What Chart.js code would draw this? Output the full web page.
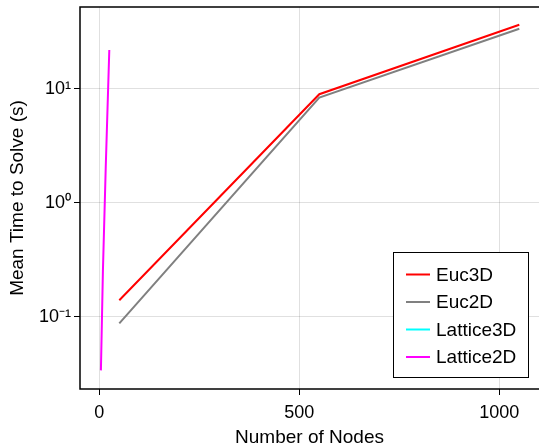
<!DOCTYPE html>
<html>
<head>
<meta charset="utf-8">
<script src="https://cdn.jsdelivr.net/npm/chart.js@4"></script>
<style>
  body { margin: 0; background: #fff; }
</style>
</head>
<body>
<canvas id="myChart" width="539" height="445"></canvas>
<script>
// values
const eucNodes = [50, 550, 1050];
const euc3dTimes = [0.14, 9.0, 36.6];
const euc2dTimes = [0.088, 8.4, 33.8];
const lattice3dNodes = [];
const lattice3dTimes = [];
const lattice2dNodes = [4, 9, 16, 25];
const lattice2dTimes = [0.034, 0.25, 2.0, 22];

const xTicks = [0, 500, 1000];
const yTicks = [0.1, 1, 10];
const yTickLabels = ['10⁻¹', '10⁰', '10¹'];

const FONT = '"Liberation Sans", Arial, sans-serif';
const GRID = 'rgba(0,0,0,0.12)';

function toPoints(xs, ys) {
  return xs.map((x, i) => ({ x: x, y: ys[i] }));
}

// box round the plot + legend inside it (bottom right)
const frameAndLegend = {
  id: 'frameAndLegend',
  afterDraw(chart) {
    const ctx = chart.ctx;
    const a = chart.chartArea;
    ctx.save();
    ctx.strokeStyle = '#000';
    ctx.lineWidth = 1.5;
    ctx.strokeRect(a.left, a.top, a.right - a.left + 10, a.bottom - a.top);

    const bx = 393.5, by = 252.5, bw = 135, bh = 125;
    ctx.fillStyle = '#fff';
    ctx.fillRect(bx, by, bw, bh);
    ctx.lineWidth = 1;
    ctx.strokeRect(bx, by, bw, bh);

    ctx.font = '19px ' + FONT;
    ctx.textBaseline = 'middle';
    chart.data.datasets.forEach((ds, i) => {
      const y = 274.5 + i * 27.5;
      ctx.strokeStyle = ds.borderColor;
      ctx.lineWidth = 2;
      ctx.beginPath();
      ctx.moveTo(406, y);
      ctx.lineTo(430, y);
      ctx.stroke();
      ctx.fillStyle = '#000';
      ctx.fillText(ds.label, 436, y + 1);
    });
    ctx.restore();
  }
};

function createChart() {
  const ctx = document.getElementById('myChart');
  new Chart(ctx, {
    type: 'line',
    data: {
      datasets: [
        { label: 'Euc3D', data: toPoints(eucNodes, euc3dTimes), borderColor: '#ff0000' },
        { label: 'Euc2D', data: toPoints(eucNodes, euc2dTimes), borderColor: '#808080' },
        { label: 'Lattice3D', data: toPoints(lattice3dNodes, lattice3dTimes), borderColor: '#00ffff' },
        { label: 'Lattice2D', data: toPoints(lattice2dNodes, lattice2dTimes), borderColor: '#ff00ff' }
      ]
    },
    options: {
      responsive: false,
      animation: false,
      elements: {
        point: { radius: 0 },
        line: { borderWidth: 2, tension: 0 }
      },
      layout: { padding: { top: 7, left: 0, right: 0, bottom: 0 } },
      plugins: {
        legend: { display: false },
        tooltip: { enabled: false }
      },
      scales: {
        x: {
          type: 'linear',
          bounds: 'data',
          min: -48.25,
          max: 1099.25,
          afterBuildTicks: (s) => { s.ticks = xTicks.map(v => ({ value: v })); },
          afterFit: (s) => { s.height = 56; s.paddingLeft = 0; s.paddingRight = 0; },
          grid: { color: GRID, tickColor: '#000', tickLength: 6 },
          border: { display: false },
          ticks: {
            color: '#000',
            font: { family: FONT, size: 18 },
            padding: 7,
            maxRotation: 0,
            callback: (v) => String(v)
          },
          title: {
            display: true,
            text: 'Number of Nodes',
            color: '#000',
            font: { family: FONT, size: 19 },
            padding: { top: 0, bottom: -4 }
          }
        },
        y: {
          type: 'logarithmic',
          bounds: 'data',
          min: 0.02334,
          max: 52.4,
          afterBuildTicks: (s) => { s.ticks = yTicks.map(v => ({ value: v })); },
          afterFit: (s) => { s.width = 80; s.paddingTop = 0; s.paddingBottom = 0; },
          grid: { color: GRID, tickColor: '#000', tickLength: 6 },
          border: { display: false },
          ticks: {
            color: '#000',
            font: { family: FONT, size: 18 },
            padding: 3,
            callback: (v) => yTickLabels[yTicks.indexOf(v)]
          },
          title: {
            display: true,
            text: 'Mean Time to Solve (s)',
            color: '#000',
            font: { family: FONT, size: 19 },
            padding: { top: 6, bottom: 0 }
          }
        }
      }
    },
    plugins: [frameAndLegend]
  });
}

createChart();
</script>
</body>
</html>
